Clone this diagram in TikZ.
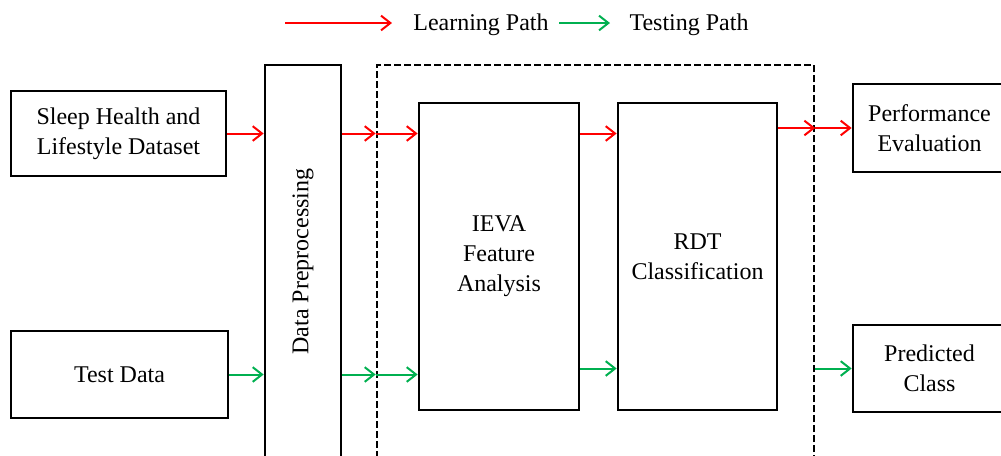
\documentclass[tikz,border=0pt]{standalone}
\usepackage{fontspec}
\setmainfont{Liberation Serif}
\usepackage{tikz}
\usetikzlibrary{positioning,arrows.meta}
\definecolor{learnred}{RGB}{255,0,0}
\definecolor{testgreen}{RGB}{0,176,80}
\tikzset{
	sleep pipeline/.style={
		x=0.75pt,y=-0.75pt, % one unit = one pixel, y downwards
		font=\fontsize{18}{22.5}\selectfont,
		every node/.style={align=center}
	},
	box size/.style 2 args={% width, height in pixels
		minimum width=#1*0.75pt,
		minimum height=#2*0.75pt
	},
	process box/.style={
		rectangle,
		draw,
		line width=2pt,
		inner sep=0pt
	},
	module border/.style={
		rectangle,
		draw,
		line width=2pt,
		dash pattern=on 5pt off 2.5pt,
		inner sep=0pt
	},
	path edge/.style={
		line width=1.5pt,
		-{Straight Barb[length=7pt,width=11pt,line width=1.5pt]}
	},
	learning edge/.style={path edge,learnred},
	testing edge/.style={path edge,testgreen}
}

\begin{document}
\begin{tikzpicture}[sleep pipeline]
	\useasboundingbox (0,0) rectangle (1001,455);
	\clip (0,0) rectangle (1001,455);
	% legend
	\coordinate (learn from) at (285,23);
	\coordinate (learn to) at (392,23);
	\node (learn text) at (481,25) {Learning Path};
	\coordinate (test from) at (559,23);
	\coordinate (test to) at (610,23);
	\node (test text) at (689,25) {Testing Path};
	\draw[learning edge] (learn from) -- (learn to);
	\draw[testing edge] (test from) -- (test to);
	% boxes
	\node[process box,box size={215}{85}] (sleep) at (118.5,133.5) {Sleep Health and\\Lifestyle Dataset};
	\node[process box,box size={217}{87}] (test) at (119.5,374.5) {Test Data};
	\node[process box,box size={76}{393},
		label={[rotate=90]center:Data Preprocessing}] (prep) at (303,261.5) {};
	\node[module border,box size={437}{420}] (core) at (595.5,275) {};
	\node[process box,box size={160}{307}] (ieva) at (499,256.5) {IEVA\\Feature\\Analysis};
	\node[process box,box size={159}{307}] (rdt) at (697.5,256.5) {RDT\\Classification};
	\node[process box,box size={153}{88}] (perf) at (929.5,128) {Performance\\Evaluation};
	\node[process box,box size={153}{87}] (pred) at (929.5,368.5) {Predicted\\Class};
	% learning path
	\draw[learning edge] (sleep.east) -- (sleep.east -| prep.west);
	\draw[learning edge] (sleep.east -| prep.east) -- (sleep.east -| core.west);
	\draw[learning edge] (sleep.east -| core.west) -- (sleep.east -| ieva.west);
	\draw[learning edge] (sleep.east -| ieva.east) -- (sleep.east -| rdt.west);
	\draw[learning edge] (perf.west -| rdt.east) -- (perf.west -| core.east);
	\draw[learning edge] (perf.west -| core.east) -- (perf.west);
	% testing path
	\draw[testing edge] (test.east) -- (test.east -| prep.west);
	\draw[testing edge] (test.east -| prep.east) -- (test.east -| core.west);
	\draw[testing edge] (test.east -| core.west) -- (test.east -| ieva.west);
	\draw[testing edge] (pred.west -| ieva.east) -- (pred.west -| rdt.west);
	\draw[testing edge] (pred.west -| core.east) -- (pred.west);
\end{tikzpicture}
\end{document}
